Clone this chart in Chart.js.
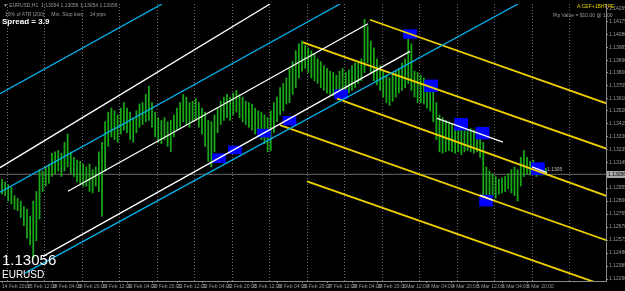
<!DOCTYPE html>
<html><head><meta charset="utf-8">
<script src="https://cdn.jsdelivr.net/npm/chart.js@4/dist/chart.umd.min.js"></script>
<style>
html,body{margin:0;padding:0;background:#000;overflow:hidden;}
#wrap{position:relative;width:625px;height:291px;background:#000;}
#c{position:absolute;left:0;top:0;}
.t{position:absolute;font-family:'Liberation Sans',Arial,sans-serif;white-space:nowrap;line-height:1;}
</style></head><body>
<div id="wrap">
<canvas id="c" width="625" height="291"></canvas>
<div class="t" style="left:3px;top:3px;font-size:5px;color:#9a9a9a">▼ EURUSD,H1&nbsp; 1.13054 1.13056 1.13054 1.13056</div>
<div class="t" style="left:5px;top:12px;font-size:5px;color:#9a9a9a">10% of ATR (200)&nbsp;&nbsp;&nbsp;&nbsp; Min. Stop loss:&nbsp;&nbsp;&nbsp; 14 pips</div>
<div class="t" style="left:2px;top:18px;font-size:8px;color:#fff;font-weight:bold">Spread = 3.9</div>
<div class="t" style="left:577px;top:4px;font-size:5px;color:#e6d200">A:CEF+1BHTPE</div>
<div class="t" style="left:553px;top:13px;font-size:5px;color:#9a9a9a">Pip Value = $10.00 @ 1.00</div>
<div class="t" style="left:547px;top:167px;font-size:5px;color:#bdbdbd">1.1305</div>
<div class="t" style="left:2px;top:252px;font-size:15px;color:#fff">1.13056</div>
<div class="t" style="left:2px;top:270px;font-size:10px;color:#fff">EURUSD</div>
</div>
<script>
// ---- data ----
const symbol = "EURUSD";
const bidPrice = 1.13056;
const yTickValues = [1.14265,1.14175,1.14080,1.13985,1.13890,1.13800,1.13705,1.13610,1.13520,1.13425,1.13330,1.13235,1.13145,1.12955,1.12860,1.12765,1.12670,1.12575,1.12480,1.12385,1.12290];
const xLabelBars = [0,16,32,48,64,80,96,112,128,144,160,176,192,208,224,240,256,272,288,304,320,336];
const xLabels = ["14 Feb 2019","15 Feb 12:00","18 Feb 04:00","18 Feb 20:00","19 Feb 12:00","20 Feb 04:00","20 Feb 20:00","21 Feb 12:00","22 Feb 04:00","22 Feb 20:00","25 Feb 12:00","26 Feb 04:00","26 Feb 20:00","27 Feb 12:00","28 Feb 04:00","28 Feb 20:00","1 Mar 12:00","4 Mar 04:00","4 Mar 20:00","5 Mar 12:00","6 Mar 04:00","6 Mar 20:00"];
const gridBars = [3,27,51,75,99,123,147,171,195,219,243,267,291,315,339,363];
// price bars: one every 2 hourly bars, highs and lows
const barStep = 2;
const highs = [1.1302,1.1300,1.1298,1.1296,1.1290,1.1288,1.1286,1.1282,1.1280,1.1275,
1.1286,1.1293,1.1309,1.1308,1.1311,1.1313,1.1321,1.1322,1.1323,1.1321,
1.1329,1.1335,1.1322,1.1318,1.1316,1.1315,1.1313,1.1311,1.1313,1.1309,
1.1311,1.1322,1.1329,1.1344,1.1351,1.1354,1.1352,1.1349,1.1354,1.1358,
1.1354,1.1351,1.1347,1.1352,1.1357,1.1358,1.1364,1.1370,1.1358,1.1351,
1.1347,1.1345,1.1347,1.1344,1.1345,1.1349,1.1354,1.1358,1.1364,1.1362,
1.1358,1.1359,1.1361,1.1358,1.1354,1.1351,1.1345,1.1344,1.1349,1.1354,
1.1359,1.1362,1.1364,1.1362,1.1365,1.1367,1.1364,1.1362,1.1359,1.1358,
1.1357,1.1354,1.1352,1.1351,1.1349,1.1347,1.1352,1.1358,1.1362,1.1369,
1.1372,1.1376,1.1383,1.1388,1.1396,1.1401,1.1403,1.1400,1.1398,1.1396,
1.1394,1.1390,1.1388,1.1385,1.1383,1.1381,1.1380,1.1378,1.1381,1.1383,
1.1380,1.1382,1.1385,1.1387,1.1388,1.1390,1.1419,1.1414,1.1403,1.1398,
1.1390,1.1385,1.1381,1.1378,1.1376,1.1380,1.1381,1.1383,1.1387,1.1390,
1.1411,1.1401,1.1381,1.1380,1.1378,1.1376,1.1374,1.1372,1.1369,1.1358,
1.1349,1.1347,1.1345,1.1344,1.1342,1.1340,1.1341,1.1340,1.1339,1.1338,
1.1339,1.1338,1.1339,1.1336,1.1329,1.1311,1.1308,1.1306,1.1304,1.1302,
1.1303,1.1304,1.1306,1.1309,1.1311,1.1309,1.1318,1.1323,1.1318,1.1315,
1.1316,1.1313,1.1313,1.1311,1.1310];
const lows = [1.1291,1.1290,1.1286,1.1284,1.1280,1.1279,1.1274,1.1268,1.1259,1.1254,
1.1244,1.1257,1.1273,1.1293,1.1297,1.1299,1.1304,1.1306,1.1308,1.1304,
1.1308,1.1311,1.1306,1.1304,1.1300,1.1299,1.1297,1.1297,1.1293,1.1292,
1.1297,1.1293,1.1275,1.1308,1.1326,1.1333,1.1331,1.1329,1.1335,1.1338,
1.1336,1.1331,1.1329,1.1336,1.1340,1.1342,1.1344,1.1345,1.1340,1.1333,
1.1329,1.1328,1.1331,1.1326,1.1322,1.1333,1.1338,1.1340,1.1344,1.1342,
1.1340,1.1344,1.1345,1.1340,1.1335,1.1326,1.1315,1.1311,1.1322,1.1336,
1.1342,1.1345,1.1347,1.1345,1.1349,1.1351,1.1347,1.1344,1.1342,1.1340,
1.1338,1.1335,1.1333,1.1331,1.1328,1.1322,1.1323,1.1336,1.1344,1.1349,
1.1352,1.1357,1.1358,1.1364,1.1369,1.1376,1.1381,1.1383,1.1380,1.1376,
1.1374,1.1372,1.1369,1.1367,1.1365,1.1364,1.1363,1.1362,1.1365,1.1364,
1.1362,1.1365,1.1367,1.1369,1.1372,1.1374,1.1380,1.1387,1.1380,1.1374,
1.1371,1.1367,1.1362,1.1358,1.1356,1.1359,1.1362,1.1365,1.1367,1.1369,
1.1372,1.1367,1.1362,1.1358,1.1358,1.1357,1.1354,1.1352,1.1344,1.1331,
1.1322,1.1321,1.1322,1.1323,1.1322,1.1321,1.1322,1.1320,1.1322,1.1323,
1.1322,1.1321,1.1322,1.1318,1.1288,1.1286,1.1287,1.1290,1.1288,1.1291,
1.1292,1.1293,1.1295,1.1292,1.1290,1.1286,1.1297,1.1304,1.1306,1.1305,
1.1306,1.1304,1.1305,1.1305,1.1305];
// trend lines: [startBar, startPrice, endBar, endPrice]
const cyanLines = [[-1.28,1.13645,102.4,1.14301],[-1.28,1.12925,216.3,1.14301],[14.72,1.12334,330.2,1.14301]];
const whiteLines = [[-1.28,1.13105,171.5,1.14301],[42.2,1.12932,234.2,1.14157],[26.2,1.12456,261.1,1.13955],[278.4,1.13465,320.6,1.13292],[305.9,1.12903,314.2,1.12867],[339.2,1.13111,348.8,1.13069]];
const yellowLines = [[235.5,1.14186,387.2,1.13573],[192.6,1.14020,387.2,1.13242],[214.4,1.13609,387.2,1.12896],[177.9,1.13415,387.2,1.12572],[195.2,1.13004,380.8,1.12262]];
// blue zones: [centerBar, lowPrice, highPrice]
const zones = [[138.9,1.13141,1.13206],[149.1,1.13206,1.13263],[167.7,1.13328,1.13386],[184.0,1.13415,1.13480],[217.0,1.13609,1.13674],[261.1,1.14049,1.14114],[274.6,1.13660,1.13746],[293.8,1.13379,1.13465],[307.5,1.13314,1.13400],[309.8,1.12824,1.12903],[343.0,1.13054,1.13141]];

const X_MIN = -1.28, X_MAX = 386.56, Y_MIN = 1.12276, Y_MAX = 1.14301;

const datasets = [];
datasets.push({type:'line', data:[{x:X_MIN,y:bidPrice},{x:X_MAX,y:bidPrice}], borderColor:'#6c6c6c', borderWidth:1, pointRadius:0, order:9});
datasets.push({type:'bar', data: highs.map((h,i)=>({x:i*barStep, y:[lows[i],h]})), backgroundColor:'#18a818', barThickness:1.1, grouped:false, order:8});
datasets.push({type:'bar', data: zones.map(z=>({x:z[0], y:[z[1],z[2]]})), backgroundColor:'#0000ff', barThickness:13, grouped:false, order:7});
function addLines(arr, color, w){
  arr.forEach(l=>datasets.push({type:'line', data:[{x:l[0],y:l[1]},{x:l[2],y:l[3]}], borderColor:color, borderWidth:w, pointRadius:0, tension:0, order:1}));
}
addLines(cyanLines,'#00b4f0',1.3);
addLines(whiteLines,'#ffffff',1.3);
addLines(yellowLines,'#f0d000',1.8);

const gridPlugin = {
  id:'vgrid',
  beforeDatasetsDraw(chart){
    const ctx = chart.ctx, xs = chart.scales.x, a = chart.chartArea;
    ctx.save();
    ctx.strokeStyle = '#6a6a6a'; ctx.lineWidth = 1; ctx.setLineDash([1,2]);
    gridBars.forEach(b=>{
      const px = Math.round(xs.getPixelForValue(b)) + 0.5;
      ctx.beginPath(); ctx.moveTo(px, a.top); ctx.lineTo(px, a.bottom); ctx.stroke();
    });
    ctx.restore();
  }
};
const labelPlugin = {
  id:'bidlabel',
  afterDraw(chart){
    const ctx = chart.ctx, ys = chart.scales.y;
    const py = Math.round(ys.getPixelForValue(bidPrice));
    ctx.save();
    ctx.fillStyle = '#a8a8a8';
    ctx.fillRect(ys.left+1, py-3, 19, 7);
    ctx.fillStyle = '#000';
    ctx.font = '5px "Liberation Sans"';
    ctx.textBaseline = 'middle';
    ctx.fillText(bidPrice.toFixed(5), ys.left+2, py+0.5);
    ctx.restore();
  }
};

new Chart(document.getElementById('c'), {
  type:'line',
  data:{datasets},
  options:{
    responsive:false, animation:false, devicePixelRatio:1,
    layout:{padding:0},
    plugins:{legend:{display:false}, tooltip:{enabled:false}},
    scales:{
      x:{type:'linear', position:'bottom', min:X_MIN, max:X_MAX, offset:false,
        afterFit(s){s.height=10;},
        afterBuildTicks(s){s.ticks = xLabelBars.map(v=>({value:v}));},
        ticks:{autoSkip:false, maxRotation:0, align:'start', padding:1, color:'#9a9a9a', font:{size:5, family:'Liberation Sans'},
          callback:(v)=>{const k=xLabelBars.indexOf(v); return k>=0?xLabels[k]:'';}},
        grid:{drawOnChartArea:false, drawTicks:true, tickLength:2, color:'#8a8a8a', offset:false},
        border:{color:'#8a8a8a'}
      },
      y:{type:'linear', position:'right', min:Y_MIN, max:Y_MAX,
        afterFit(s){s.width=19;},
        afterBuildTicks(s){s.ticks = yTickValues.map(v=>({value:v}));},
        ticks:{padding:1, color:'#9a9a9a', font:{size:5, family:'Liberation Sans'}, callback:(v)=>v.toFixed(5)},
        grid:{drawOnChartArea:false, drawTicks:true, tickLength:2, color:'#8a8a8a'},
        border:{color:'#8a8a8a'}
      }
    }
  },
  plugins:[gridPlugin, labelPlugin]
});
</script>
</body></html>
